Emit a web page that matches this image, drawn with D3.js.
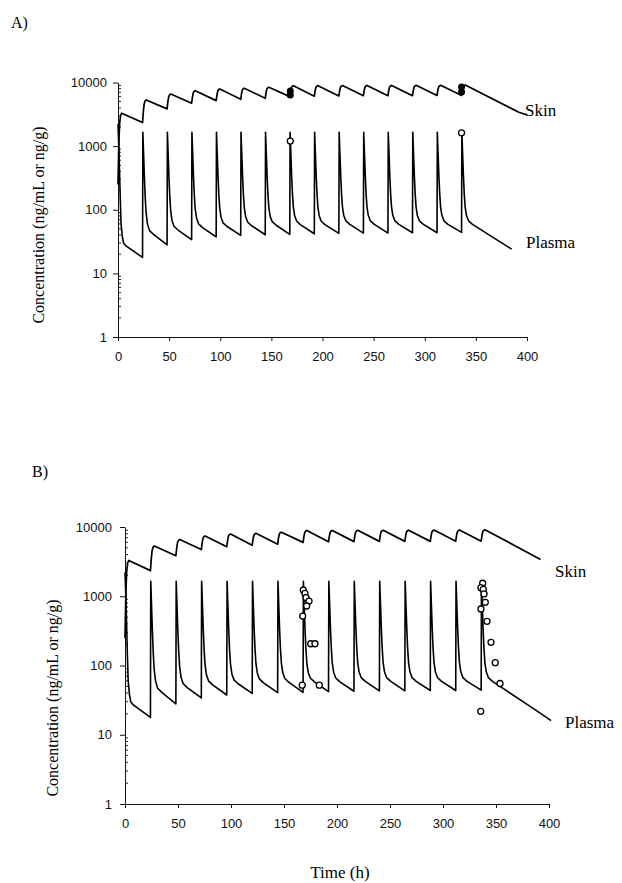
<!DOCTYPE html>
<html>
<head>
<meta charset="utf-8">
<script src="https://cdn.jsdelivr.net/npm/d3@7"></script>
<style>
  body { margin: 0; background: #fff; }
  .serif { font-family: "Liberation Serif", "Times New Roman", serif; }
  .sans { font-family: "Liberation Sans", Arial, sans-serif; }
</style>
</head>
<body>
<svg width="622" height="883"></svg>
<script>
// axis ticks
const xTicks = [0, 50, 100, 150, 200, 250, 300, 350, 400];
const yTicks = [1, 10, 100, 1000, 10000];

// simulated skin concentration (h, ng/g)
const skin = [
  [0, 250], [0.8, 1100], [1.6, 2300], [2.6, 3050], [3.6, 3290],
  [24, 2345], [24.8, 3500], [25.6, 4600], [26.6, 5150], [27.6, 5320],
  [48, 3850], [48.8, 5000], [49.6, 6000], [50.6, 6450], [51.6, 6600],
  [72, 4720], [72.8, 5900], [73.6, 6900], [74.6, 7300], [75.6, 7430],
  [96, 5190], [96.8, 6400], [97.6, 7400], [98.6, 7800], [99.6, 7910],
  [120, 5450], [120.8, 6700], [121.6, 7600], [122.6, 8000], [123.6, 8110],
  [144, 5650], [144.8, 6950], [145.6, 7900], [146.6, 8300], [147.6, 8410],
  [168, 6000], [168.8, 7300], [169.6, 8350], [170.6, 8780], [171.6, 8900],
  [192, 6100], [192.8, 7400], [193.6, 8400], [194.6, 8800], [195.6, 8920],
  [216, 6150], [216.8, 7450], [217.6, 8450], [218.6, 8820], [219.6, 8950],
  [240, 6200], [240.8, 7500], [241.6, 8500], [242.6, 8850], [243.6, 8980],
  [264, 6200], [264.8, 7500], [265.6, 8500], [266.6, 8870], [267.6, 9000],
  [288, 6200], [288.8, 7500], [289.6, 8500], [290.6, 8880], [291.6, 9020],
  [312, 6250], [312.8, 7550], [313.6, 8550], [314.6, 8900], [315.6, 9050],
  [336, 6250], [336.8, 7600], [337.6, 8600], [338.6, 9000], [339.6, 9150],
  [392, 3400], [400, 3080]
];

// simulated plasma concentration (h, ng/mL)
const plasma = [
  [0, 2200], [0.8, 1000], [1.5, 400], [2.2, 150], [3.0, 60], [4.2, 38], [5.4, 30], [7.8, 27],
  [24, 17.8], [24.3, 1650], [25, 780], [25.8, 327], [26.6, 158], [27.5, 89], [28.8, 60], [30.8, 47], [34.7, 41],
  [48, 28], [48.3, 1650], [49, 790], [49.8, 337], [50.6, 167], [51.5, 98], [52.8, 68], [54.8, 55], [58.7, 48],
  [72, 34], [72.3, 1650], [73, 795], [73.8, 343], [74.6, 173], [75.5, 103], [76.8, 74], [78.8, 60], [82.7, 52.5],
  [96, 37.5], [96.3, 1650], [97, 800], [97.8, 345], [98.6, 175], [99.5, 106], [100.8, 76], [102.8, 62], [106.7, 54.5],
  [120, 39.5], [120.3, 1650], [121, 800], [121.8, 348], [122.6, 178], [123.5, 108], [124.8, 78], [126.8, 64], [130.7, 56],
  [144, 40.5], [144.3, 1650], [145, 800], [145.8, 349], [146.6, 179], [147.5, 109], [148.8, 79], [150.8, 65], [154.7, 57],
  [168, 41], [168.3, 1650], [169, 800], [169.8, 350], [170.6, 180], [171.5, 110], [172.8, 80], [174.8, 66], [178.7, 58],
  [192, 42], [192.3, 1650], [193, 800], [193.8, 350], [194.6, 180], [195.5, 110], [196.8, 80], [198.8, 66], [202.7, 58],
  [216, 42.5], [216.3, 1650], [217, 800], [217.8, 350], [218.6, 181], [219.5, 111], [220.8, 81], [222.8, 67], [226.7, 59],
  [240, 43], [240.3, 1650], [241, 800], [241.8, 350], [242.6, 181], [243.5, 111], [244.8, 81], [246.8, 67], [250.7, 59],
  [264, 43], [264.3, 1650], [265, 800], [265.8, 350], [266.6, 181], [267.5, 111], [268.8, 81], [270.8, 67], [274.7, 59],
  [288, 43.5], [288.3, 1650], [289, 800], [289.8, 350], [290.6, 181], [291.5, 111], [292.8, 81], [294.8, 67], [298.7, 59],
  [312, 43.5], [312.3, 1650], [313, 800], [313.8, 350], [314.6, 181], [315.5, 111], [316.8, 81], [318.8, 67], [322.7, 59],
  [336, 44], [336.3, 1650], [337, 800], [337.8, 350], [338.6, 181], [339.5, 111], [340.8, 81], [342.8, 67], [346.7, 59],
  [385, 24], [402, 16]
];

// measured points
const skinObsA = [[168.5, 7360], [168.5, 6380], [336, 8500], [336, 7100]];
const plasmaObsA = [[168.5, 1200], [336, 1620]];
const plasmaObsB = [
  [168.2, 1230], [169.8, 1100], [170.8, 953], [173.6, 853], [171.4, 723], [167.6, 518],
  [175.2, 206], [179.2, 206], [167.2, 52], [183.3, 52],
  [337.4, 1540], [335.8, 1330], [338.0, 1260], [338.7, 1080], [339.9, 818], [335.8, 655],
  [341.5, 434], [345.3, 216], [349.3, 110], [353.8, 55], [335.6, 21.8]
];

const panels = [
  { name: "A)", nameX: 11, nameY: 28, left: 118, right: 527, top: 82.5, bottom: 337,
    skinEnd: 400, plasmaEnd: 385, skinLab: [525, 116], plasmaLab: [526, 248],
    titleX: 38, titleY: 225, labOff: 11, filled: skinObsA, open: plasmaObsA },
  { name: "B)", nameX: 32, nameY: 477, left: 125, right: 549, top: 527, bottom: 804,
    skinEnd: 392, plasmaEnd: 402, skinLab: [555, 577], plasmaLab: [565, 728],
    titleX: 52, titleY: 698, labOff: 13, filled: [], open: plasmaObsB }
];

const svg = d3.select("svg");

panels.forEach((p) => {
  const x = d3.scaleLinear().domain([0, 400]).range([p.left, p.right]);
  const y = d3.scaleLog().domain([1, 10000]).range([p.bottom, p.top]);
  const g = svg.append("g");

  // x axis
  const xAxis = g.append("g")
    .attr("transform", `translate(0,${p.bottom})`)
    .call(d3.axisBottom(x).tickValues(xTicks).tickSize(4).tickPadding(11).tickSizeOuter(0));
  xAxis.selectAll("text").attr("class", "sans").attr("font-size", 13).attr("fill", "#111");

  // y axis with log minor ticks
  const yAxis = g.append("g")
    .attr("transform", `translate(${p.left},0)`)
    .call(d3.axisLeft(y).tickValues(yTicks).tickFormat(d3.format("d"))
      .tickSize(5).tickPadding(p.labOff - 5).tickSizeOuter(0));
  yAxis.selectAll("text").attr("class", "sans").attr("font-size", 13).attr("fill", "#111");
  const minors = [];
  yTicks.slice(0, -1).forEach((d) => {
    for (let k = 2; k < 10; k++) minors.push(d * k);
  });
  yAxis.selectAll(".minor").data(minors).enter().append("line")
    .attr("class", "minor")
    .attr("x1", 0).attr("x2", 3)
    .attr("y1", (d) => y(d)).attr("y2", (d) => y(d))
    .attr("stroke", "#222");
  g.selectAll(".domain, .tick line").attr("stroke", "#111");

  // curves
  const line = d3.line()
    .x((d) => x(d[0]))
    .y((d) => y(d[1]));
  g.append("path")
    .datum(skin.filter((d) => d[0] <= p.skinEnd))
    .attr("d", line)
    .attr("fill", "none").attr("stroke", "#000").attr("stroke-width", 1.7)
    .attr("stroke-linejoin", "round");
  g.append("path")
    .datum(plasma.filter((d) => d[0] <= p.plasmaEnd))
    .attr("d", line)
    .attr("fill", "none").attr("stroke", "#000").attr("stroke-width", 1.6)
    .attr("stroke-linejoin", "round");

  // measured data
  g.selectAll(".filled").data(p.filled).enter().append("circle")
    .attr("cx", (d) => x(d[0])).attr("cy", (d) => y(d[1]))
    .attr("r", 3.5).attr("fill", "#000");
  g.selectAll(".open").data(p.open).enter().append("circle")
    .attr("cx", (d) => x(d[0])).attr("cy", (d) => y(d[1]))
    .attr("r", 3).attr("fill", "#fff").attr("stroke", "#000").attr("stroke-width", 1.3);

  // labels
  g.append("text").attr("class", "serif").attr("x", p.skinLab[0]).attr("y", p.skinLab[1])
    .attr("font-size", 17).text("Skin");
  g.append("text").attr("class", "serif").attr("x", p.plasmaLab[0]).attr("y", p.plasmaLab[1])
    .attr("font-size", 17).text("Plasma");
  g.append("text").attr("class", "serif").attr("x", p.nameX).attr("y", p.nameY)
    .attr("font-size", 16).text(p.name);
  g.append("text").attr("class", "serif")
    .attr("transform", `translate(${p.titleX},${p.titleY}) rotate(-90)`)
    .attr("text-anchor", "middle").attr("dy", "0.35em")
    .attr("font-size", 16).text("Concentration (ng/mL or ng/g)");
});

svg.append("text").attr("class", "serif")
  .attr("x", 340).attr("y", 878).attr("text-anchor", "middle")
  .attr("font-size", 17).text("Time (h)");
</script>
</body>
</html>
